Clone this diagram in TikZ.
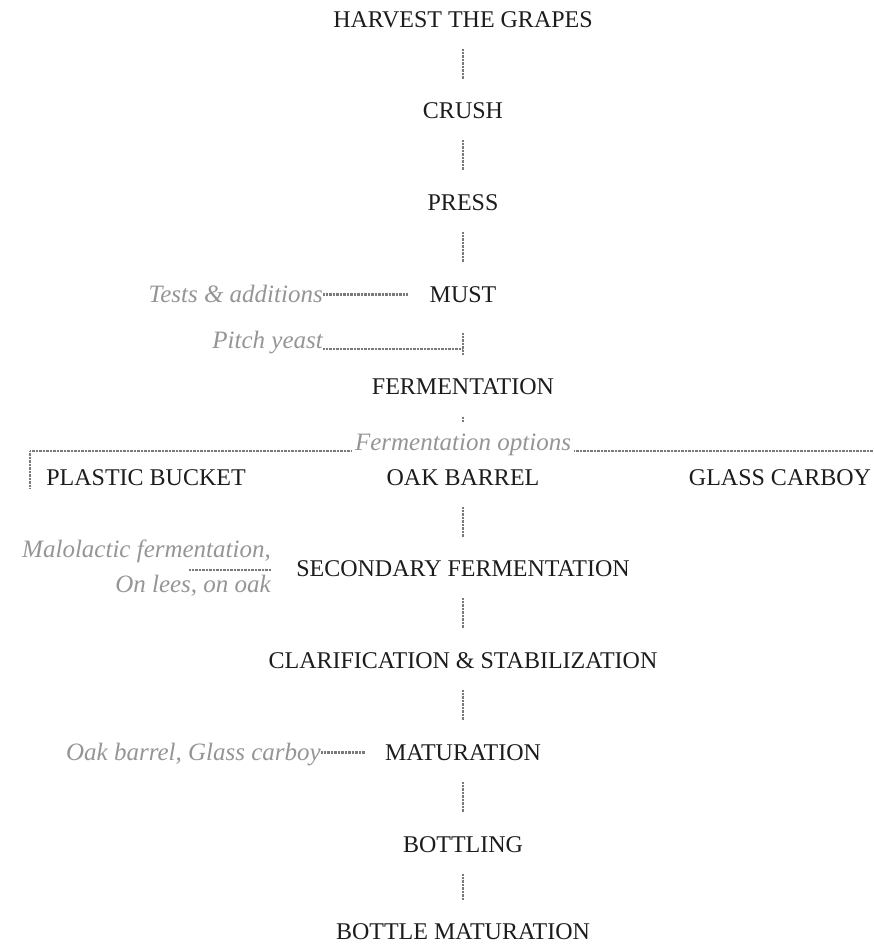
\documentclass[tikz,border=0pt]{standalone}
\usepackage{fontspec}
\setmainfont{Liberation Serif}
\usepackage{xcolor}
\definecolor{inkdark}{HTML}{1C1C1C}
\definecolor{notegray}{HTML}{959595}
\definecolor{linegray}{HTML}{7A7A7A}

\begin{document}
\begin{tikzpicture}[x=1pt, y=-1pt,
    stage/.style={inner sep=0pt, text height=17pt, text depth=0pt, font=\fontsize{24}{29}\selectfont, text=inkdark},
    notetext/.style={inner sep=0pt, font=\fontsize{25}{35}\selectfont\itshape, text=notegray},
    note/.style={notetext, text height=17pt, text depth=0pt},
    link/.style={draw=linegray, line width=2.4pt, dash pattern=on 1pt off 0.4pt},
    flow/.style={link, shorten <=21pt, shorten >=23pt}]
    \useasboundingbox (0,0) rectangle (873,945);

    \node (Harvest) at (463,28) [stage, anchor=south] {HARVEST THE GRAPES};
    \node (Crush) at (463,119) [stage, anchor=south] {CRUSH};
    \node (Press) at (463,211) [stage, anchor=south] {PRESS};
    \node (Must) at (463,303) [stage, anchor=south] {MUST};
    \node (Ferm) at (463,395) [stage, anchor=south] {FERMENTATION};
    \node (Options) at (463,451) [note, anchor=south, inner xsep=3pt] {Fermentation options};
    \node (Bucket) at (146,486) [stage, anchor=south] {PLASTIC BUCKET};
    \node (Oak) at (463,486) [stage, anchor=south] {OAK BARREL};
    \node (Carboy) at (780,486) [stage, anchor=south] {GLASS CARBOY};
    \node (Secondary) at (463,577) [stage, anchor=south] {SECONDARY FERMENTATION};
    \node (Clarify) at (463,669) [stage, anchor=south] {CLARIFICATION \& STABILIZATION};
    \node (Mature) at (463,761) [stage, anchor=south] {MATURATION};
    \node (Bottling) at (463,853) [stage, anchor=south] {BOTTLING};
    \node (BottleMat) at (463,940) [stage, anchor=south] {BOTTLE MATURATION};

    \node (Tests) at (323,303) [note, anchor=south east] {Tests \& additions};
    \node (Yeast) at (323,349) [note, anchor=south east] {Pitch yeast};
    \node (Malo) at (271,540) [notetext, anchor=north east, align=right] {Malolactic fermentation,\\On lees, on oak};
    \node (Vessels) at (321,761) [note, anchor=south east] {Oak barrel, Glass carboy};

    \coordinate (BucketTail) at (30,488);
    \coordinate (CarboyTail) at (873,451);
    \coordinate (MaloTail) at (189,570);

    \draw[flow] (Harvest) -- (Crush);
    \draw[flow] (Crush) -- (Press);
    \draw[flow] (Press) -- (Must);
    \draw[link, shorten <=30pt, shorten >=23pt] (Must) -- (Ferm);
    \draw[link, shorten <=22pt, shorten >=12pt] (Ferm) -- (Options);
    \draw[link] (Options.south west) -| (BucketTail);
    \draw[link] (Options.south east) -- (CarboyTail);
    \draw[flow] (Oak) -- (Secondary);
    \draw[flow] (Secondary) -- (Clarify);
    \draw[flow] (Clarify) -- (Mature);
    \draw[flow] (Mature) -- (Bottling);
    \draw[flow] (Bottling) -- (BottleMat);

    \draw[link, shorten >=22pt] (Tests) -- (Must);
    \draw[link] (Yeast.south east) -- (Yeast.south east -| Must);
    \draw[link] (MaloTail) -- (MaloTail -| Malo.east);
    \draw[link, shorten >=20pt] (Vessels) -- (Mature);
\end{tikzpicture}
\end{document}
